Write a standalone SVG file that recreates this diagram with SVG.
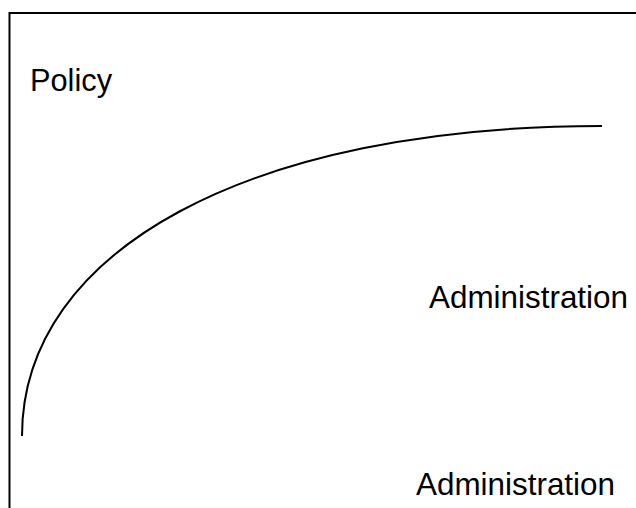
<svg xmlns="http://www.w3.org/2000/svg" width="636" height="508" viewBox="0 0 636 508">
  <style>
    .frame { fill: none; stroke: #000; stroke-width: 2; }
    .curve { fill: none; stroke: #000; stroke-width: 2; }
    .label { font-family: "Liberation Sans", Arial, sans-serif; font-size: 32px; fill: #000; }
  </style>
  <rect width="636" height="508" fill="#fff"/>
  <!-- open frame: top and left edges only -->
  <path class="frame" d="M9.5,508 V13 H636"/>
  <g id="connectors">
    <path class="curve" d="M22,436 C22,250 250,126 602,126"/>
  </g>
  <g id="policy">
    <text class="label" x="30" y="91" textLength="82" lengthAdjust="spacingAndGlyphs">Policy</text>
  </g>
  <g id="administration-upper">
    <text class="label" x="429" y="308" textLength="199" lengthAdjust="spacingAndGlyphs">Administration</text>
  </g>
  <g id="administration-lower">
    <text class="label" x="416" y="495" textLength="199" lengthAdjust="spacingAndGlyphs">Administration</text>
  </g>
</svg>
